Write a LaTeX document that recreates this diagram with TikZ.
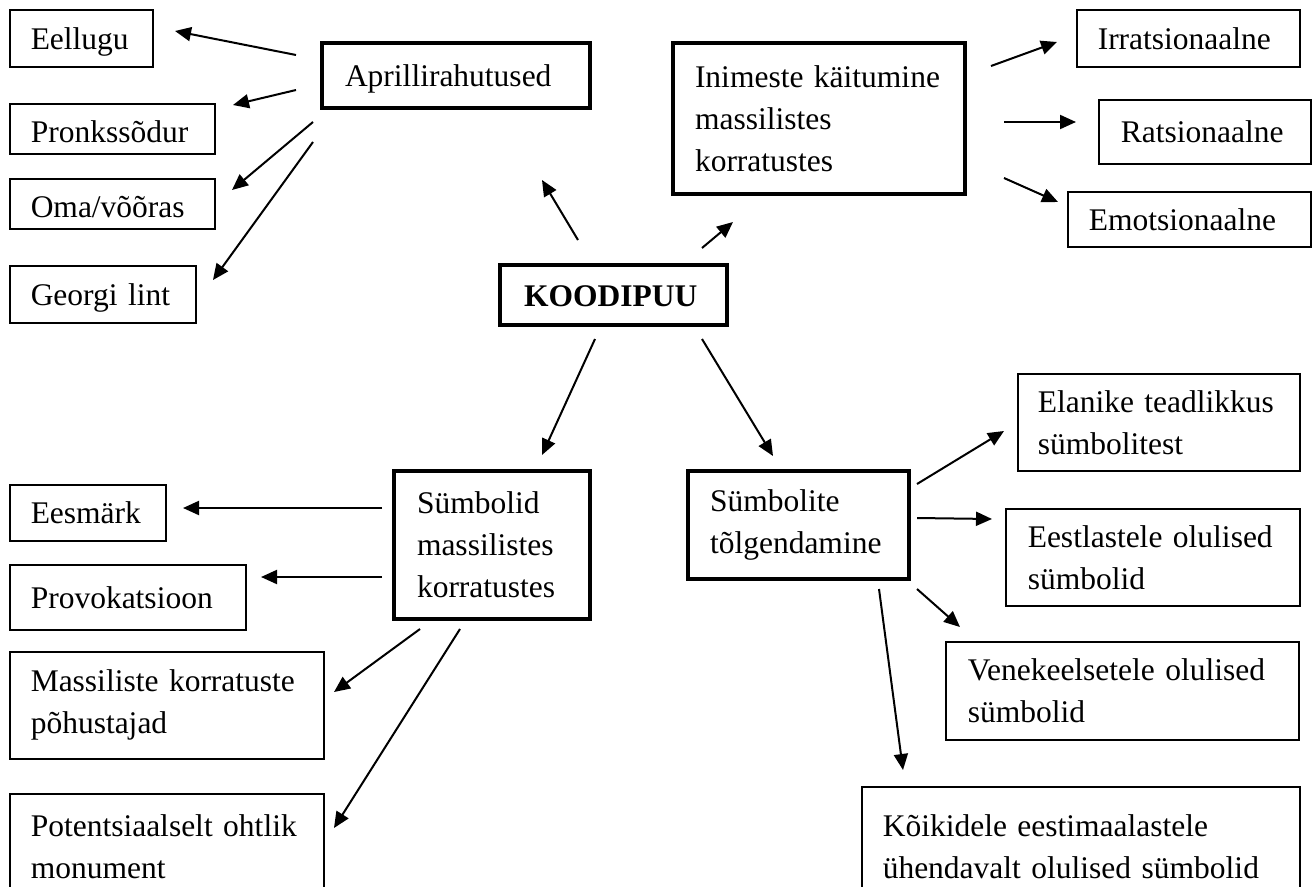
\documentclass[tikz,border=0pt]{standalone}
\usepackage{fontspec}
\setmainfont{Liberation Serif}
\usetikzlibrary{arrows.meta}

\begin{document}
\begin{tikzpicture}[x=1pt,y=-1pt]
    \tikzstyle{box}=[draw=black,line width=1.5pt,anchor=north west,align=left,inner ysep=0pt,
        font=\fontsize{31.5}{42}\selectfont]
    \tikzstyle{main box}=[box,line width=4pt]
    \tikzstyle{one line}=[text height=22pt,text depth=0pt]
    \tikzstyle{low line}=[text height=28pt,text depth=0pt]
    \tikzstyle{edge}=[line width=2pt,-{Triangle[length=16pt,width=14pt]}]

    \useasboundingbox (0,0) rectangle (1316,886);
    \clip (0,0) rectangle (1316,886);

    % centre
    \node[main box,one line,inner xsep=24pt,text width=179pt,minimum height=60] (koodipuu) at (498,263) {\textbf{KOODIPUU}};

    % top left
    \node[main box,one line,inner xsep=23pt,text width=222pt,minimum height=65] (april) at (320,41) {Aprillirahutused};
    \node[box,one line,inner xsep=21pt,text width=101pt,minimum height=57] (eellugu) at (9,9) {Eellugu};
    \node[box,low line,inner xsep=21pt,text width=163pt,minimum height=50] (pronks) at (9,103) {Pronkssõdur};
    \node[box,low line,inner xsep=21pt,text width=163pt,minimum height=50] (oma) at (9,178) {Oma/võõras};
    \node[box,one line,inner xsep=21pt,text width=144pt,minimum height=57] (georgi) at (9,265) {Georgi lint};

    % top right
    \node[main box,inner xsep=22pt,text width=248pt,minimum height=151] (kaitumine) at (671,41) {Inimeste käitumine\\massilistes\\korratustes};
    \node[box,one line,inner xsep=21pt,text width=181pt,minimum height=57] (irrats) at (1076,9) {Irratsionaalne};
    \node[box,one line,inner xsep=22pt,text width=168pt,minimum height=64] (rats) at (1098,99) {Ratsionaalne};
    \node[box,one line,inner xsep=21pt,text width=201pt,minimum height=55] (emots) at (1067,191) {Emotsionaalne};

    % bottom left
    \node[main box,inner xsep=23pt,text width=150pt,minimum height=148] (symbolid) at (392,469) {Sümbolid\\massilistes\\korratustes};
    \node[box,one line,inner xsep=21pt,text width=114pt,minimum height=56] (eesmark) at (9,484) {Eesmärk};
    \node[box,one line,inner xsep=21pt,text width=194pt,minimum height=65] (provok) at (9,564) {Provokatsioon};
    \node[box,inner xsep=21pt,text width=272pt,minimum height=107] (pohustajad) at (9,651) {Massiliste korratuste\\põhustajad};
    \node[box,inner xsep=21pt,text width=272pt,minimum height=106] (monument) at (9,793) {Potentsiaalselt ohtlik\\monument};

    % bottom right
    \node[main box,inner xsep=22pt,text width=177pt,minimum height=108] (tolgend) at (686,469) {Sümbolite\\tõlgendamine};
    \node[box,inner xsep=20pt,text width=242pt,minimum height=97] (teadlikkus) at (1017,373) {Elanike teadlikkus\\sümbolitest};
    \node[box,inner xsep=22pt,text width=250pt,minimum height=97] (eestl) at (1005,508) {Eestlastele olulised\\sümbolid};
    \node[box,inner xsep=22pt,text width=309pt,minimum height=98] (venek) at (945,641) {Venekeelsetele olulised\\sümbolid};
    \node[box,inner xsep=21pt,text width=396pt,minimum height=119] (koik) at (861,786) {Kõikidele eestimaalastele\\ühendavalt olulised sümbolid};

    % arrow ends
    \coordinate (k-a) at (578,240);  \coordinate (a-k) at (542,180);
    \coordinate (k-i) at (702,248);  \coordinate (i-k) at (733,222);
    \coordinate (k-s) at (595,339);  \coordinate (s-k) at (542,455);
    \coordinate (k-t) at (702,339);  \coordinate (t-k) at (773,456);

    \coordinate (a-1) at (296,55);   \coordinate (eellugu-in) at (175,31);
    \coordinate (a-2) at (296,90);   \coordinate (pronks-in) at (233,105);
    \coordinate (a-3) at (313,122);  \coordinate (oma-in) at (232,190);
    \coordinate (a-4) at (313,142);  \coordinate (georgi-in) at (213,280);

    \coordinate (i-1) at (991,66);   \coordinate (irrats-in) at (1057,42);
    \coordinate (i-2) at (1004,122); \coordinate (rats-in) at (1076,122);
    \coordinate (i-3) at (1004,178); \coordinate (emots-in) at (1058,202);

    \coordinate (s-1) at (382,508);  \coordinate (eesmark-in) at (183,508);
    \coordinate (s-2) at (382,577);  \coordinate (provok-in) at (261,577);
    \coordinate (s-3) at (420,629);  \coordinate (pohustajad-in) at (334,692);
    \coordinate (s-4) at (460,629);  \coordinate (monument-in) at (334,828);

    \coordinate (t-1) at (917,484);  \coordinate (teadlikkus-in) at (1004,431);
    \coordinate (t-2) at (917,518);  \coordinate (eestl-in) at (992,519);
    \coordinate (t-3) at (917,589);  \coordinate (venek-in) at (960,627);
    \coordinate (t-4) at (879,589);  \coordinate (koik-in) at (903,770);

    \draw[edge] (k-a) -- (a-k);
    \draw[edge] (k-i) -- (i-k);
    \draw[edge] (k-s) -- (s-k);
    \draw[edge] (k-t) -- (t-k);

    \draw[edge] (a-1) -- (eellugu-in);
    \draw[edge] (a-2) -- (pronks-in);
    \draw[edge] (a-3) -- (oma-in);
    \draw[edge] (a-4) -- (georgi-in);

    \draw[edge] (i-1) -- (irrats-in);
    \draw[edge] (i-2) -- (rats-in);
    \draw[edge] (i-3) -- (emots-in);

    \draw[edge] (s-1) -- (eesmark-in);
    \draw[edge] (s-2) -- (provok-in);
    \draw[edge] (s-3) -- (pohustajad-in);
    \draw[edge] (s-4) -- (monument-in);

    \draw[edge] (t-1) -- (teadlikkus-in);
    \draw[edge] (t-2) -- (eestl-in);
    \draw[edge] (t-3) -- (venek-in);
    \draw[edge] (t-4) -- (koik-in);
\end{tikzpicture}
\end{document}
